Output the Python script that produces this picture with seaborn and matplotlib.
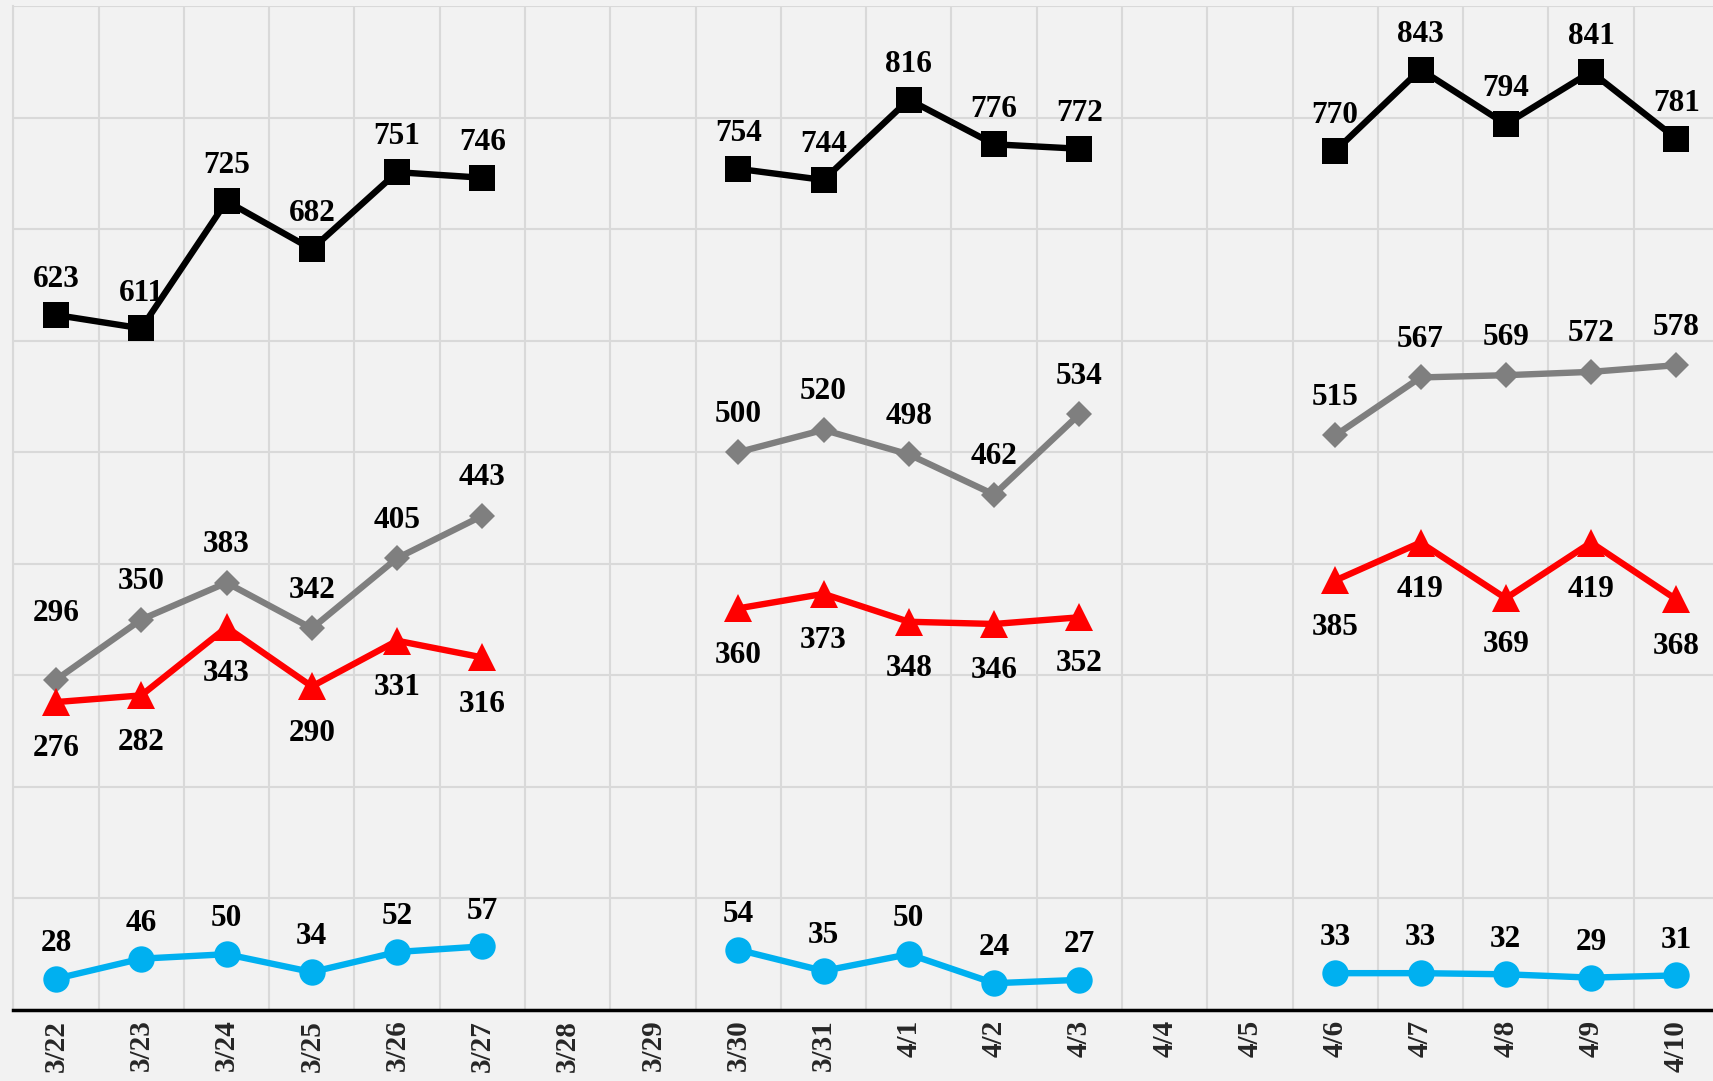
import numpy as np
import pandas as pd
import matplotlib
matplotlib.use("Agg")
import matplotlib.pyplot as plt
import seaborn as sns

dates = ["3/22", "3/23", "3/24", "3/25", "3/26", "3/27", "3/28", "3/29", "3/30", "3/31",
         "4/1", "4/2", "4/3", "4/4", "4/5", "4/6", "4/7", "4/8", "4/9", "4/10"]
nan = np.nan
black_vals = [623, 611, 725, 682, 751, 746, nan, nan, 754, 744, 816, 776, 772, nan, nan, 770, 843, 794, 841, 781]
gray_vals = [296, 350, 383, 342, 405, 443, nan, nan, 500, 520, 498, 462, 534, nan, nan, 515, 567, 569, 572, 578]
red_vals = [276, 282, 343, 290, 331, 316, nan, nan, 360, 373, 348, 346, 352, nan, nan, 385, 419, 369, 419, 368]
blue_vals = [28, 46, 50, 34, 52, 57, nan, nan, 54, 35, 50, 24, 27, nan, nan, 33, 33, 32, 29, 31]

bg = "#F2F2F2"
sns.set_theme(style="white")
plt.rcParams["font.family"] = ["Liberation Serif", "DejaVu Serif"]

fig = plt.figure(figsize=(17.13, 10.81), dpi=100, facecolor=bg)
ax = fig.add_axes([0.0078, 0.0657, 0.9957, 0.9288])
ax.set_facecolor(bg)

series = [
    # values, color, marker, markersize, label offset (pt, baseline)
    (black_vals, "#000000", "s", 19, 20),
    (gray_vals, "#7F7F7F", "D", 13, 22),
    (red_vals, "#FF0000", "^", 20, -39),
    (blue_vals, "#00B0F0", "o", 19, 20),
]

x = np.arange(len(dates))
for vals, color, marker, ms, off in series:
    df = pd.DataFrame({"x": x, "y": vals})
    df["seg"] = df["y"].isna().cumsum()
    df = df.dropna()
    for _, seg in df.groupby("seg"):
        sns.lineplot(data=seg, x="x", y="y", ax=ax, color=color, linewidth=4.6,
                     marker=marker, markersize=ms, markeredgecolor=color,
                     markeredgewidth=0, estimator=None, sort=False, zorder=3)
    for xi, v in zip(x, vals):
        if np.isnan(v):
            continue
        o = off
        if vals is gray_vals and xi == 0:
            o = 42
        ax.annotate(f"{int(v)}", (xi, v), xytext=(0, o), textcoords="offset points",
                    ha="center", va="baseline", fontsize=22.5, fontweight="bold",
                    color="black", zorder=4)

ax.set_xlim(-0.5, len(dates) - 0.5)
ax.set_ylim(0, 900)
ax.set_yticks(np.arange(0, 901, 100))
ax.set_yticklabels([])
ax.tick_params(axis="y", length=0)

ax.set_xticks(np.arange(-0.5, len(dates), 1.0))
ax.set_xticklabels([])
ax.set_xticks(x, minor=True)
ax.set_xticklabels(dates, minor=True, rotation=90, fontsize=21, fontweight="bold")
ax.tick_params(axis="x", which="major", length=9, width=1.5, color="black", direction="out")
ax.tick_params(axis="x", which="minor", length=0, pad=7)
ax.set_xlabel("")
ax.set_ylabel("")

ax.grid(True, which="major", color="#D9D9D9", linewidth=1.5, zorder=0)
ax.set_axisbelow(True)
for s in ["top", "right"]:
    ax.spines[s].set_visible(False)
ax.spines["left"].set_color("#D9D9D9")
ax.spines["left"].set_linewidth(1.5)
ax.spines["bottom"].set_color("black")
ax.spines["bottom"].set_linewidth(2.5)

fig.savefig("out.png", dpi=100, facecolor=bg)
